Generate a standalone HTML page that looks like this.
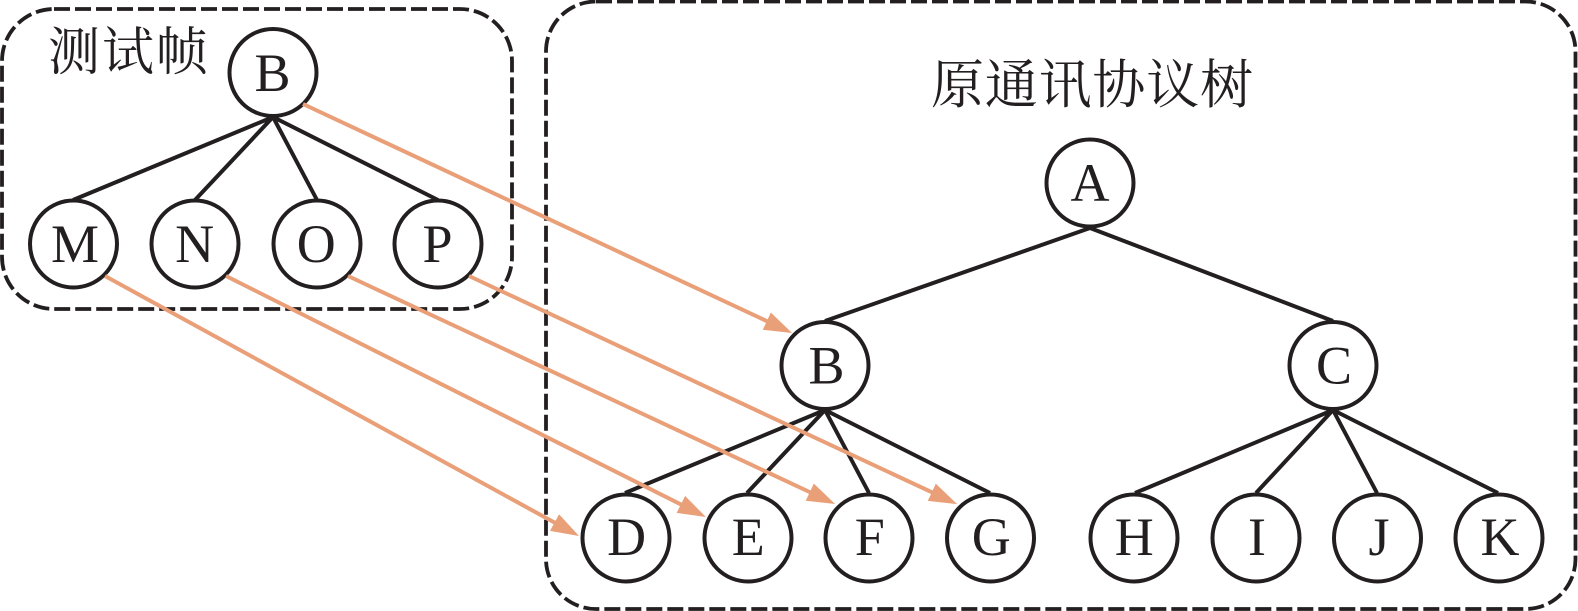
<!DOCTYPE html>
<html>
<head>
<meta charset="utf-8">
<style>
html,body{margin:0;padding:0;background:#fff;}
svg{display:block;}
text{fill:#231f20;}
.n{font-family:"Liberation Serif",serif;font-size:54px;text-anchor:middle;}
.z{font-family:"Noto Serif CJK SC","Noto Sans CJK SC",serif;}
</style>
</head>
<body>
<svg width="1578" height="611" viewBox="0 0 1578 611" xmlns="http://www.w3.org/2000/svg">
<defs>
<marker id="a" markerUnits="userSpaceOnUse" markerWidth="30" markerHeight="20" refX="8" refY="9.5" orient="auto">
<path d="M0,0 L28,9.5 L0,19 Z" fill="#e99f78"/>
</marker>
</defs>
<rect x="2" y="9" width="510" height="300" rx="52" fill="none" stroke="#231f20" stroke-width="3.8" stroke-dasharray="16 5"/>
<rect x="546" y="1.5" width="1029.5" height="607.5" rx="50" fill="none" stroke="#231f20" stroke-width="3.8" stroke-dasharray="16 5"/>
<g stroke="#231f20" stroke-width="4" fill="none">
<path d="M273,117 L73,200 M273,117 L195,200 M273,117 L317,200 M273,117 L438,200"/>
<path d="M1090,228 L825,321 M1090,228 L1333,321"/>
<path d="M825,410 L625,493 M825,410 L747,493 M825,410 L869,493 M825,410 L990,493"/>
<path d="M1333,410 L1135,493 M1333,410 L1256,493 M1333,410 L1377,493 M1333,410 L1498,493"/>
</g>
<g fill="#fff" stroke="#231f20" stroke-width="4">
<circle cx="273" cy="72.5" r="43.5"/>
<circle cx="73.5" cy="244" r="43.5"/>
<circle cx="195" cy="244" r="43.5"/>
<circle cx="317" cy="244" r="43.5"/>
<circle cx="438" cy="244" r="43.5"/>
<circle cx="1090" cy="183" r="43.5"/>
<circle cx="825" cy="365.5" r="43.5"/>
<circle cx="1333" cy="365.5" r="43.5"/>
<circle cx="626" cy="538" r="43.5"/>
<circle cx="748" cy="538" r="43.5"/>
<circle cx="869" cy="538" r="43.5"/>
<circle cx="990.5" cy="538" r="43.5"/>
<circle cx="1134" cy="538" r="43.5"/>
<circle cx="1256" cy="538" r="43.5"/>
<circle cx="1377.5" cy="538" r="43.5"/>
<circle cx="1499" cy="538" r="43.5"/>
</g>
<g stroke="#e99f78" stroke-width="4" fill="none">
<path d="M303,104 L774,324.5" marker-end="url(#a)"/>
<path d="M105,276 L561.5,526.4" marker-end="url(#a)"/>
<path d="M226,276 L688,508" marker-end="url(#a)"/>
<path d="M348,276 L817,495.5" marker-end="url(#a)"/>
<path d="M469,276 L939,495.6" marker-end="url(#a)"/>
</g>
<g class="n">
<text x="272.5" y="91">B</text>
<text x="75" y="262">M</text>
<text x="194.6" y="262">N</text>
<text x="316.3" y="262">O</text>
<text x="437.5" y="262">P</text>
<text x="1090" y="201">A</text>
<text x="826.5" y="383.5">B</text>
<text x="1334" y="383.5">C</text>
<text x="626.6" y="555">D</text>
<text x="748.3" y="555">E</text>
<text x="869.8" y="555">F</text>
<text x="991.2" y="555">G</text>
<text x="1134.3" y="555">H</text>
<text x="1257" y="555">I</text>
<text x="1379" y="555">J</text>
<text x="1500" y="555">K</text>
</g>
<text class="z" x="48" y="70" textLength="160" lengthAdjust="spacing" style="font-size:52px">测试帧</text>
<text class="z" x="931" y="103" textLength="322" lengthAdjust="spacing" style="font-size:53px">原通讯协议树</text>
</svg>
</body>
</html>
